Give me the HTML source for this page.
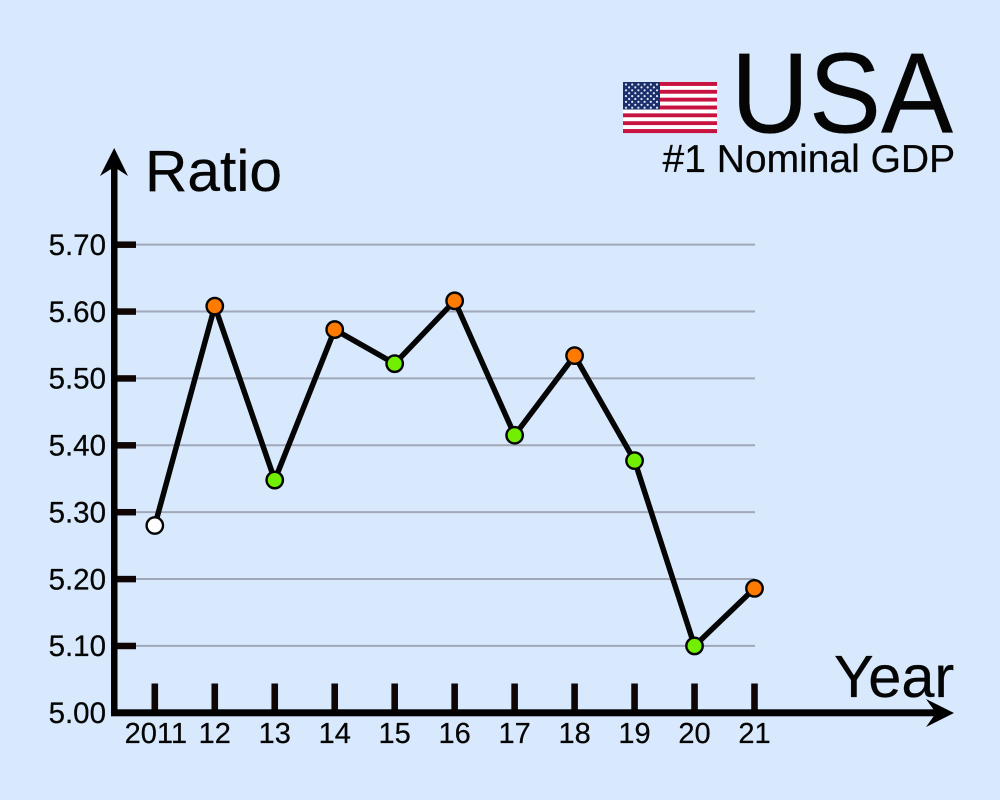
<!DOCTYPE html>
<html>
<head>
<meta charset="utf-8">
<style>
html,body{margin:0;padding:0;background:#d9e9fd;}
svg{display:block;font-family:"Liberation Sans",sans-serif;fill:#050505;}
text{stroke:#050505;stroke-width:0.25px;}
</style>
</head>
<body>
<svg id="chart" width="1000" height="800" viewBox="0 0 1000 800" xmlns="http://www.w3.org/2000/svg">
<rect x="0" y="0" width="1000" height="800" fill="#d9e9fd"/>
<g id="flag"></g>
<text transform="translate(731 132.5) scale(1 1.06)" x="0" y="0" font-size="108">USA</text>
<text x="662.5" y="172" font-size="39">#1 Nominal GDP</text>
<text x="145" y="191" font-size="58.7">Ratio</text>
<text x="834" y="697" font-size="59.5">Year</text>
<g id="grid"></g>
<g id="axes"></g>
<g id="plot"></g>
</svg>
<script>
const categories = ["2011","12","13","14","15","16","17","18","19","20","21"];
const ratioValues = [5.28,5.608,5.348,5.573,5.522,5.616,5.415,5.534,5.377,5.10,5.186];
const pointColors = ["white","orange","green","orange","green","orange","green","orange","green","green","orange"];
const yTicks = ["5.00","5.10","5.20","5.30","5.40","5.50","5.60","5.70"];

const NS = "http://www.w3.org/2000/svg";
const colorMap = {white:"#ffffff",orange:"#ff7a00",green:"#72ee00"};
const xScale = i => 154.8 + i * 59.97;
const yScale = v => 712.8 - (v - 5) * 668.8;

function make(tag, attrs, parent, text){
  const el = document.createElementNS(NS, tag);
  for (const k in attrs) el.setAttribute(k, attrs[k]);
  if (text !== undefined) el.textContent = text;
  parent.appendChild(el);
  return el;
}

const grid = document.getElementById("grid");
const axes = document.getElementById("axes");
const plot = document.getElementById("plot");
const flag = document.getElementById("flag");

/* flag */
for (let s = 0; s < 13; s++) {
  const st = make("rect", {x:623, y:82 + s * 51 / 13, width:94, height:51 / 13 + 0.1, fill: s % 2 ? "#ffffff" : "#c8123f"}, flag);
  
  
}
const canton = make("rect", {x:623, y:82, width:37, height:27.5, fill:"#1a2f6b"}, flag);


for (let r = 0; r < 9; r++) {
  const n = r % 2 ? 5 : 6;
  for (let c = 0; c < n; c++) {
    const star = make("circle", {cx:626 + (r % 2 ? 3.1 : 0) + c * 6.2, cy:84.5 + r * 2.9, r:1.1, fill:"#dfe6f5"}, flag);
    
    
  }
}

/* gridlines, y ticks and labels */
yTicks.forEach(t => {
  const v = parseFloat(t);
  const y = yScale(v);
  if (v > 5) {
    const line = make("line", {x1:118, x2:755, y1:y, y2:y, stroke:"#9fa7b8", "stroke-width":2}, grid);
    
    
    const tick = make("rect", {x:115, y:y - 3.2, width:21, height:6.5, fill:"#0f0505"}, axes);
    
    
  }
  const label = make("text", {x:106, y:y + 10.3, "font-size":29.5, "text-anchor":"end"}, axes, t);
  
  
});

/* x ticks and labels */
categories.forEach((c, i) => {
  const x = xScale(i);
  const tick = make("rect", {x:x - 3.3, y:683.5, width:6.6, height:28, fill:"#0f0505"}, axes);
  
  
  const label = make("text", {x:x + (i === 0 ? 1 : 0), y:743, "font-size":29, "text-anchor":"middle"}, axes, c);
  
  
});

/* axis lines and arrowheads */
const yAxis = make("rect", {x:111, y:165, width:6.5, height:551, fill:"#000"}, axes);


const xAxis = make("rect", {x:111, y:709.3, width:828, height:7, fill:"#000"}, axes);


const yArrow = make("path", {d:"M114.2 148 L128 176 L114.2 167 L100 176 Z", fill:"#000"}, axes);


const xArrow = make("path", {d:"M954 713 L926 699 L936 713 L926 727 Z", fill:"#000"}, axes);



/* series */
const pts = ratioValues.map((v, i) => xScale(i) + "," + yScale(v)).join(" ");
const series = make("polyline", {points:pts, fill:"none", stroke:"#050505", "stroke-width":5.5, "stroke-linejoin":"miter"}, plot);


ratioValues.forEach((v, i) => {
  const dot = make("circle", {cx:xScale(i), cy:yScale(v), r:8.2, fill:colorMap[pointColors[i]], stroke:"#050505", "stroke-width":2.4}, plot);
  
  
});
</script>
</body>
</html>
